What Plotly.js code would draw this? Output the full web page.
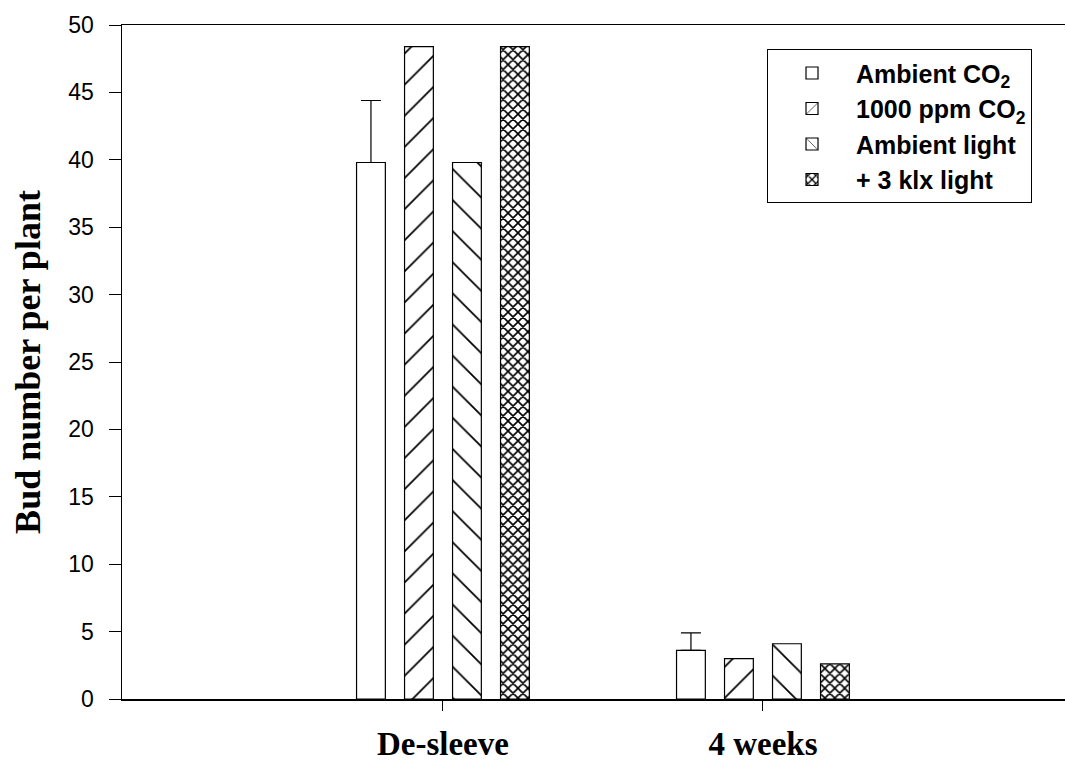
<!DOCTYPE html>
<html>
<head>
<meta charset="utf-8">
<script src="https://cdn.plot.ly/plotly-3.0.1.min.js"></script>
<style>html,body{margin:0;padding:0;background:#fff;}#chart{width:1067px;height:764px;}</style>
</head>
<body>
<div id="chart"></div>
<script>
var categories = ['De-sleeve', '4 weeks'];
var seriesNames = ['Ambient CO<sub>2</sub>', '1000 ppm CO<sub>2</sub>', 'Ambient light', '+ 3 klx light'];
var ambientCO2 = [39.8, 3.6];
var ambientCO2Err = [4.6, 1.3];
var ppm1000CO2 = [48.4, 3.0];
var ambientLight = [39.8, 4.1];
var klx3Light = [48.4, 2.6];
var yTicks = [0, 5, 10, 15, 20, 25, 30, 35, 40, 45, 50];

var patterns = [
  {shape: '', size: 8, solidity: 0.1},
  {shape: '/', size: 22, solidity: 0.08},
  {shape: '\\', size: 22, solidity: 0.08},
  {shape: 'x', size: 7, solidity: 0.4}
];
var values = [ambientCO2, ppm1000CO2, ambientLight, klx3Light];

var traces = values.map(function (v, i) {
  var t = {
    type: 'bar',
    name: seriesNames[i],
    x: categories,
    y: v,
    legendgroup: 'g' + i,
    marker: {
      color: 'white',
      line: {color: 'black', width: 1.2},
      pattern: {shape: patterns[i].shape, size: patterns[i].size, solidity: patterns[i].solidity,
                fgcolor: 'black', bgcolor: 'white', fillmode: 'replace'}
    }
  };
  if (i === 0) {
    t.error_y = {type: 'data', array: ambientCO2Err, symmetric: false, arrayminus: [0, 0],
                 visible: true, color: 'black', thickness: 1.2, width: 10};
  }
  return t;
});

var layout = {
  width: 1067, height: 764,
  margin: {l: 122, r: 2, t: 25, b: 65},
  paper_bgcolor: 'white', plot_bgcolor: 'white',
  barmode: 'group', bargap: 0.4, bargroupgap: 0.4,
  showlegend: true,
  legend: {
    x: 0.684, y: 0.964, xanchor: 'left', yanchor: 'top',
    bordercolor: 'black', borderwidth: 1, bgcolor: 'white',
    font: {family: 'Liberation Sans, Arial, sans-serif', size: 25, color: 'black', weight: 'bold'},
    traceorder: 'normal', tracegroupgap: 14,
    itemwidth: 78
  },
  xaxis: {
    type: 'category',
    range: [-1.003, 1.944],
    showline: true, linecolor: 'black', linewidth: 1.5, mirror: true,
    ticks: 'outside', ticklen: 10, tickcolor: 'black', tickwidth: 1,
    showgrid: false, zeroline: false, automargin: false,
    tickfont: {family: 'Liberation Serif, Times New Roman, serif', size: 33, color: 'black', weight: 'bold'},
    ticklabelstandoff: 5
  },
  yaxis: {
    range: [0, 50],
    tickvals: yTicks,
    showline: true, linecolor: 'black', linewidth: 1.5,
    ticks: 'outside', ticklen: 12, tickcolor: 'black', tickwidth: 1,
    showgrid: false, zeroline: false, automargin: false,
    tickfont: {family: 'Liberation Sans, Arial, sans-serif', size: 23, color: 'black'},
    ticklabelstandoff: 10,
    title: {
      text: 'Bud number per plant',
      font: {family: 'Liberation Serif, Times New Roman, serif', size: 36, color: 'black', weight: 'bold'},
      standoff: 16
    }
  }
};

Plotly.newPlot('chart', traces, layout, {displayModeBar: false, staticPlot: true});
</script>
</body>
</html>
